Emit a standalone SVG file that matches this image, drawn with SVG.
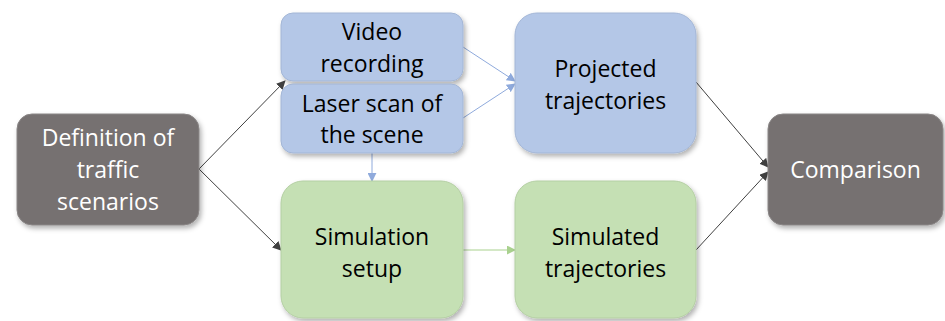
<svg xmlns="http://www.w3.org/2000/svg" width="945" height="321" viewBox="0 0 945 321">
<defs>
<filter id="sh" x="-10%" y="-10%" width="125%" height="130%">
<feDropShadow dx="2" dy="3" stdDeviation="2.5" flood-color="#000" flood-opacity="0.3"/>
</filter>
<marker id="ad" viewBox="0 0 10 10" refX="9" refY="5" markerWidth="9" markerHeight="9" markerUnits="userSpaceOnUse" orient="auto"><path d="M0,0 L10,5 L0,10 z" fill="#404040"/></marker>
<marker id="ab" viewBox="0 0 10 10" refX="9" refY="5" markerWidth="9" markerHeight="9" markerUnits="userSpaceOnUse" orient="auto"><path d="M0,0 L10,5 L0,10 z" fill="#8faadc"/></marker>
<marker id="ag" viewBox="0 0 10 10" refX="9" refY="5" markerWidth="9" markerHeight="9" markerUnits="userSpaceOnUse" orient="auto"><path d="M0,0 L10,5 L0,10 z" fill="#a9d18e"/></marker>
</defs>
<style>
text{font-family:"Open Sans","Noto Sans",sans-serif;font-size:23px;text-anchor:middle}
.gray rect{fill:#767171;stroke:#8a8686;stroke-width:1}
.gray text{fill:#ffffff}
.blue rect{fill:#b4c7e7;stroke:#a3b6d6;stroke-width:1}
.green rect{fill:#c5e0b4;stroke:#b4cfa3;stroke-width:1}
.blue text,.green text{fill:#000000}
.cd{stroke:#404040;stroke-width:1;fill:none;marker-end:url(#ad)}
.cb{stroke:#8faadc;stroke-width:1;fill:none;marker-end:url(#ab)}
.cg{stroke:#a9d18e;stroke-width:1;fill:none;marker-end:url(#ag)}
</style>
<g id="connectors">
<line class="cd" x1="199" y1="169" x2="285" y2="81"/>
<line class="cd" x1="199" y1="169" x2="281" y2="250"/>
<line class="cb" x1="463" y1="47" x2="515" y2="81"/>
<line class="cb" x1="463" y1="118" x2="515" y2="84"/>
<line class="cb" x1="372" y1="153" x2="372" y2="181"/>
<line class="cg" x1="463" y1="250" x2="515" y2="250"/>
<line class="cd" x1="696" y1="82" x2="768" y2="167"/>
<line class="cd" x1="696" y1="250" x2="768" y2="172"/>
</g>
<g id="definition" class="gray">
<rect x="17" y="114" width="182" height="111" rx="15" filter="url(#sh)"/>
<text x="108" y="146">Definition of</text>
<text x="108" y="178">traffic</text>
<text x="108" y="210">scenarios</text>
</g>
<g id="video" class="blue">
<rect x="281" y="13" width="182" height="68" rx="12" filter="url(#sh)"/>
<text x="372" y="40">Video</text>
<text x="372" y="72">recording</text>
</g>
<g id="laser" class="blue">
<rect x="281" y="84" width="182" height="69" rx="12" filter="url(#sh)"/>
<text x="372" y="112">Laser scan of</text>
<text x="372" y="143">the scene</text>
</g>
<g id="projected" class="blue">
<rect x="515" y="13" width="181" height="140" rx="22" filter="url(#sh)"/>
<text x="605.5" y="77">Projected</text>
<text x="605.5" y="109">trajectories</text>
</g>
<g id="simulation" class="green">
<rect x="281" y="181" width="182" height="137" rx="22" filter="url(#sh)"/>
<text x="372" y="245">Simulation</text>
<text x="372" y="277">setup</text>
</g>
<g id="simulated" class="green">
<rect x="515" y="181" width="181" height="137" rx="22" filter="url(#sh)"/>
<text x="605.5" y="245">Simulated</text>
<text x="605.5" y="277">trajectories</text>
</g>
<g id="comparison" class="gray">
<rect x="768" y="114" width="175" height="111" rx="15" filter="url(#sh)"/>
<text x="855.5" y="178">Comparison</text>
</g>
</svg>
